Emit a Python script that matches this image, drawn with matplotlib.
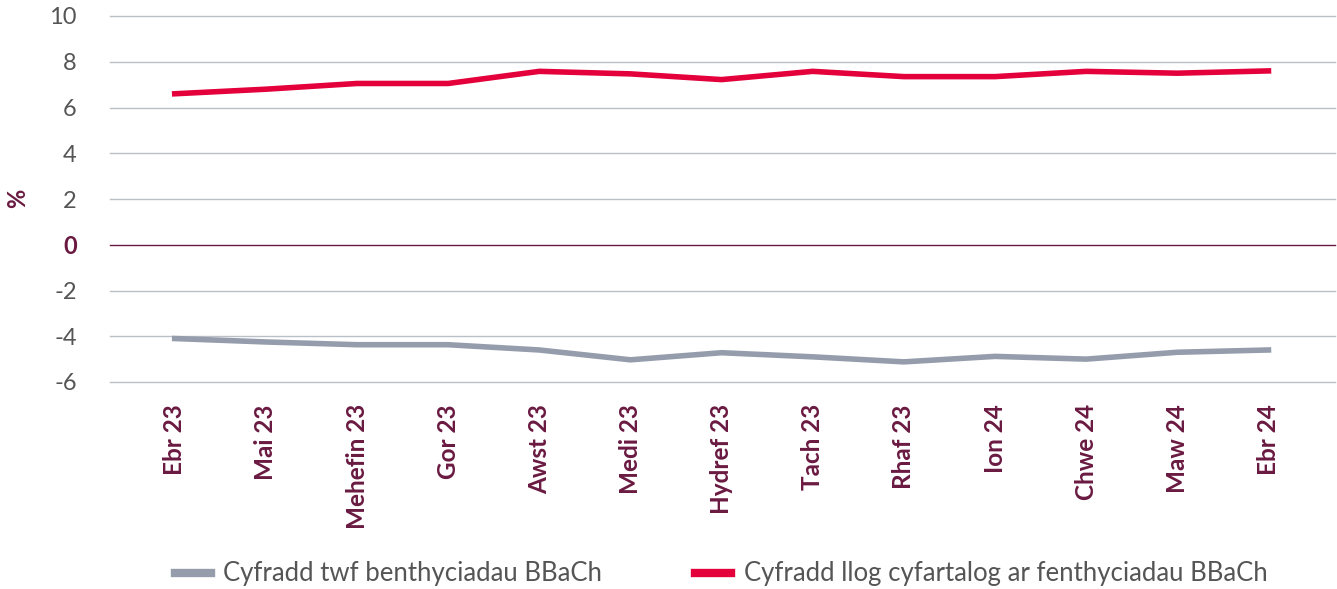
import matplotlib.pyplot as plt
from matplotlib.lines import Line2D

months = ['Ebr 23', 'Mai 23', 'Mehefin 23', 'Gor 23', 'Awst 23', 'Medi 23',
          'Hydref 23', 'Tach 23', 'Rhaf 23', 'Ion 24', 'Chwe 24', 'Maw 24', 'Ebr 24']
growth = [-4.1, -4.25, -4.37, -4.37, -4.6, -5.03, -4.72, -4.9, -5.12, -4.88, -5.0, -4.7, -4.6]
rate = [6.6, 6.8, 7.05, 7.05, 7.58, 7.47, 7.22, 7.58, 7.35, 7.35, 7.58, 7.5, 7.6]
yticks = [10, 8, 6, 4, 2, 0, -2, -4, -6]

RED = '#e4003b'
GREY = '#959cab'
MAROON = '#6a1a41'
GRID = '#b9c0c8'

plt.rcParams['font.family'] = ['Lato', 'DejaVu Sans']

fig = plt.figure(figsize=(13.37, 5.89), dpi=100)
ax = fig.add_axes([110 / 1337, 1 - 382 / 589, 1225 / 1337, 366 / 589])

x = list(range(len(months)))
for t in yticks:
    if t == 0:
        ax.axhline(t, color=MAROON, lw=1.0, zorder=1, clip_on=False)
    else:
        ax.axhline(t, color=GRID, lw=1.0, zorder=1, clip_on=False)

ax.plot(x, growth, color=GREY, lw=4, solid_joinstyle='miter', zorder=3)
ax.plot(x, rate, color=RED, lw=4, solid_joinstyle='miter', zorder=3)

ax.set_xlim(-0.71, 12.73)
ax.set_ylim(-6, 10)
ax.set_yticks(yticks)
ax.set_yticklabels([str(t) for t in yticks])
for lab in ax.get_yticklabels():
    if lab.get_text() == '0':
        lab.set_color(MAROON)
        lab.set_fontweight('bold')
    else:
        lab.set_color('#555555')
ax.tick_params(axis='y', length=0, pad=24, labelsize=17)

ax.set_xticks(x)
ax.set_xticklabels(months, rotation=90, fontsize=17.5, fontweight='bold', color=MAROON)
ax.tick_params(axis='x', length=0, pad=16)

for s in ax.spines.values():
    s.set_visible(False)

fig.text(18 / 1337, 1 - 198 / 589, '%', rotation=90, ha='center', va='center',
         fontsize=17, fontweight='bold', color=MAROON)

handles = [Line2D([], [], color=GREY, lw=6),
           Line2D([], [], color=RED, lw=6)]
fig.legend(handles, ['Cyfradd twf benthyciadau BBaCh',
                     'Cyfradd llog cyfartalog ar fenthyciadau BBaCh'],
           loc='center', bbox_to_anchor=(721 / 1337, 1 - 574 / 589), ncol=2,
           frameon=False, fontsize=18.5, handlelength=1.4, handletextpad=0.5,
           columnspacing=3.6, labelcolor='#555555')

fig.savefig('out.png', dpi=100)
